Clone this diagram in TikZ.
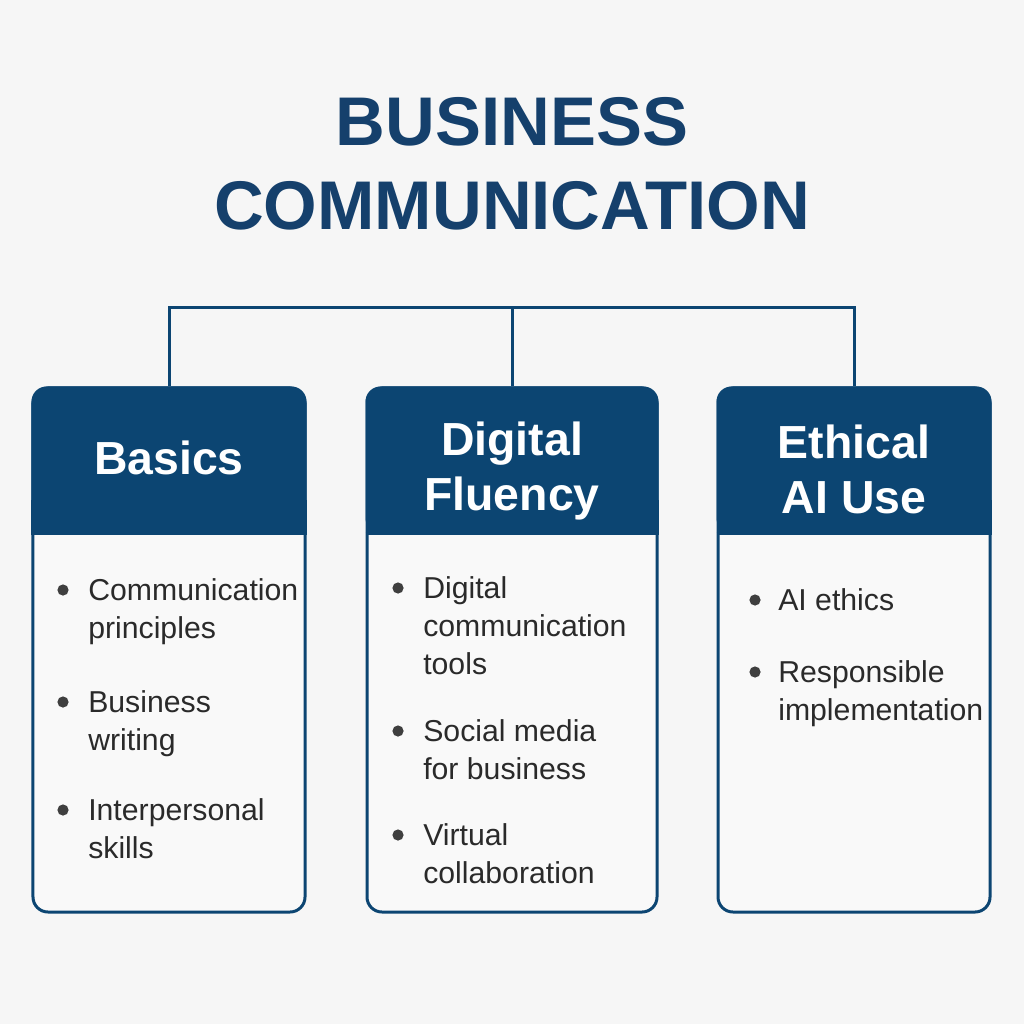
\documentclass[tikz,border=0pt]{standalone}
\usepackage{fontspec}
\setmainfont{Liberation Sans}
\definecolor{navy}{HTML}{0C4572}
\definecolor{titleblue}{HTML}{15406C}
\definecolor{ink}{HTML}{2A2A2A}
\definecolor{paper}{HTML}{F6F6F6}
\definecolor{cardbg}{HTML}{F9F9F9}
\tikzset{
    card/.style={draw=navy, line width=0.75mm, fill=cardbg, rounded corners=3.75mm,
        minimum height=131mm, inner sep=0pt},
    head/.style={font=\bfseries\fontsize{33}{39}\selectfont, text=white, align=center},
    item/.style={font=\fontsize{21.5}{27}\selectfont, text=ink, align=left, anchor=base west, inner sep=0pt},
    dot/.style={circle, fill=ink!90, minimum size=2.8mm, inner sep=0pt},
    link/.style={draw=navy, line width=0.75mm}
}
\begin{document}
\begin{tikzpicture}[x=0.25mm, y=-0.25mm]
    \fill[paper] (0,0) rectangle (1024,1024);
    \useasboundingbox (0,0) rectangle (1024,1024);

    % title
    \node[font=\bfseries\fontsize{49}{60}\selectfont, text=titleblue, align=center] (title) at (512,164)
        {BUSINESS\\COMMUNICATION};

    % the three cards
    \node[card, minimum width=68mm] (basics) at (169,650) {};
    \node[card, minimum width=72.5mm] (fluency) at (512,650) {};
    \node[card, minimum width=68mm] (ethics) at (854,650) {};

    \foreach \card in {basics, fluency, ethics} {
        \fill[navy, rounded corners=3.75mm] (\card.north west) rectangle (\card.east |- 0,533);
        \fill[navy] (\card.west |- 0,500) rectangle (\card.east |- 0,533);
        \draw[navy, line width=0.75mm] (\card.west |- 0,533) -- (\card.east |- 0,533);
    }

    \node[head] (basics-head) at (169,458) {Basics};
    \node[head] (fluency-head) at (512,471) {Digital\\Fluency};
    \node[head] (ethics-head) at (854,469) {Ethical\\AI Use};

    % connectors
    \coordinate (bus) at (512,308);
    \draw[link] (basics.north) |- (bus) -| (ethics.north);
    \draw[link] (fluency.north) -- (bus);

    % bullet items (y = first baseline, n = lines)
    \foreach \y/\n/\txt [count=\i] in {600/2/{Communication\\principles}, 712/2/{Business\\writing},
                                       820/2/{Interpersonal\\skills}} {
        \node[dot] (basics-dot-\i) at (63,\y-10) {};
        \node[item] (basics-item-\i) at (88,{\y+(\n-1)*38}) {\txt};
    }
    \foreach \y/\n/\txt [count=\i] in {598/3/{Digital\\communication\\tools}, 741/2/{Social media\\for business},
                                       845/2/{Virtual\\collaboration}} {
        \node[dot] (fluency-dot-\i) at (398,\y-10) {};
        \node[item] (fluency-item-\i) at (423,{\y+(\n-1)*38}) {\txt};
    }
    \foreach \y/\n/\txt [count=\i] in {610/1/{AI ethics}, 682/2/{Responsible\\implementation}} {
        \node[dot] (ethics-dot-\i) at (755,\y-10) {};
        \node[item] (ethics-item-\i) at (778,{\y+(\n-1)*38}) {\txt};
    }
\end{tikzpicture}
\end{document}
